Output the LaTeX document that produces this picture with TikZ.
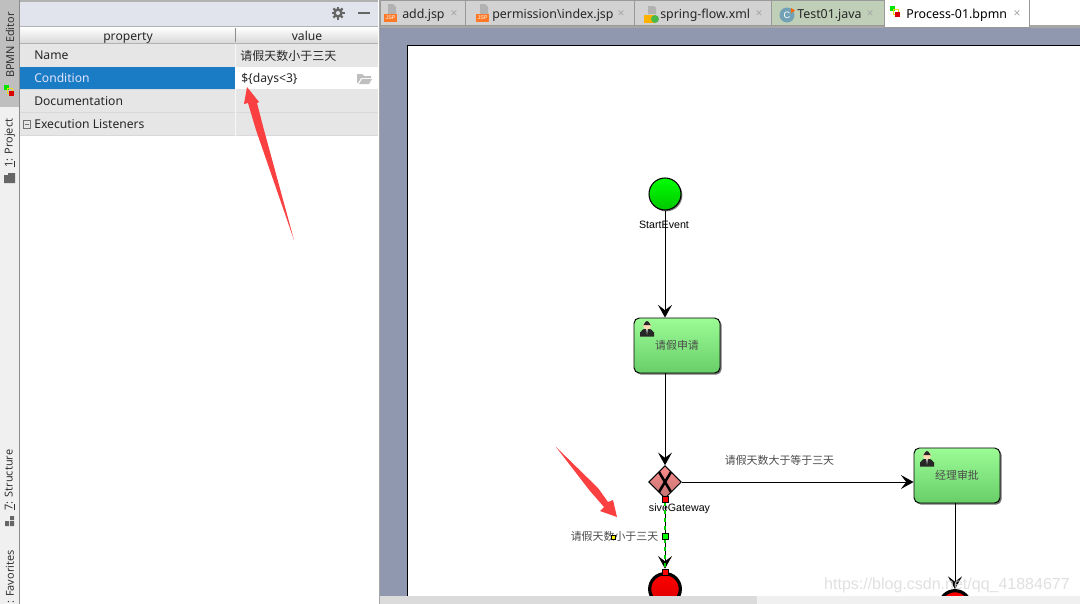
\documentclass[tikz,border=0pt]{standalone}
\usepackage{fontspec}
\setmainfont{Noto Sans}
\newfontfamily\cjk{Noto Sans CJK SC}
\newfontfamily\arial{Liberation Sans}
\usetikzlibrary{arrows.meta,shadows,shapes.geometric}

\definecolor{panelgrey}{HTML}{E6E6E6}
\definecolor{paneltop}{HTML}{E1E4EC}
\definecolor{stripgrey}{HTML}{F0F0F0}
\definecolor{editorbg}{HTML}{8F98AE}
\definecolor{selblue}{HTML}{1A7CC4}
\definecolor{arrowred}{HTML}{FA4040}
\definecolor{tabgrey}{HTML}{D2D2D2}
\definecolor{tabgreen}{HTML}{C0CFB8}
\definecolor{tasktop}{HTML}{9CFC96}
\definecolor{taskbottom}{HTML}{68CE68}

\tikzset{
  ui/.style={font=\fontsize{9.1}{11}\selectfont, text=black!85, inner sep=0pt},
  vtab/.style={ui, font=\fontsize{8.2}{10}\selectfont, rotate=90, text=black!80},
  tablabel/.style={ui, font=\fontsize{9.3}{11}\selectfont, anchor=base west},
  tabclose/.style={ui, text=black!35},
  rowname/.style={ui, anchor=base west},
  tabbox/.style={draw=black!40, fill=tabgrey, line width=0.6pt},
  cnlabel/.style={font=\cjk\fontsize{8.2}{10}\selectfont, text=black!70, inner sep=0pt},
  diagtext/.style={font=\arial\fontsize{8}{10}\selectfont, text=black, inner sep=0pt},
  flow/.style={draw=black, line width=0.75pt, -{Stealth[length=9.5pt,width=10.5pt,inset=4pt]}},
  startevent/.style={circle, draw=black, line width=0.8pt, minimum size=24pt, inner sep=0pt,
    top color=green!100!black, bottom color=green!78!black,
    drop shadow={shadow xshift=1pt,shadow yshift=-1pt,fill=black!55,opacity=1}},
  endevent/.style={circle, draw=black, line width=2.4pt, minimum size=23pt, inner sep=0pt,
    top color=red, bottom color=red!85!black},
  usertask/.style={rectangle, rounded corners=4pt, draw=black, line width=0.7pt,
    minimum width=64.5pt, minimum height=41.25pt, inner sep=0pt,
    top color=tasktop, bottom color=taskbottom,
    drop shadow={shadow xshift=1.2pt,shadow yshift=-1.2pt,fill=black!55,opacity=1}},
  gateway/.style={diamond, draw=black, line width=0.7pt, minimum size=24.5pt, inner sep=0pt,
    top color=red!45!white, bottom color=red!55!black!55!white},
  handle/.style={rectangle, draw=black, line width=0.5pt, minimum size=4.5pt, inner sep=0pt},
  pics/person/.style={code={
    \fill[black!85] (-7,7.5) -- (-7,3) to[out=-90,in=180] (-3,0) -- (3,0) to[out=0,in=-90] (7,3) -- (7,7.5) -- cycle;
    \fill[black!30] (-1,0) -- (1,0) -- (0,6) -- cycle;
    \fill[orange!30!white] (0,-3.5) circle (4);
    \fill[black!85] (-4,-4) to[out=-90,in=180] (0,-8) to[out=0,in=-90] (4,-4) -- cycle;
  }},
  pics/jspicon/.style={code={
    \fill[black!30] (-3,-10) -- (2,-10) -- (5,-7) -- (5,0) -- (-3,0) -- cycle;
    \fill[orange!75!red!85!white] (-7,0) rectangle (6,8);
    \node[font=\arial\fontsize{4}{4}\selectfont, text=white, inner sep=0pt] at (-0.5,4) {JSP};
  }},
  pics/bpmnicon/.style={code={
    \fill[green!90!black] (-5,-5) rectangle (0,0);
    \draw[yellow!90!black, line width=0.7pt] (-2,-2) rectangle (3,3);
    \fill[red!85!black] (0,1) rectangle (5,6);
  }}
}

\begin{document}
\begin{tikzpicture}[x=0.75pt,y=-0.75pt]

  \useasboundingbox (0,0) rectangle (1080,603);
  \clip (0,0) rectangle (1080,612);

  % left strip
  \fill[white] (0,0) rectangle (1080,612);
  \fill[stripgrey] (0,0) rectangle (19,612);
  \fill[black!25] (0,0) rectangle (19,107);
  \draw[black!45, line width=0.8pt] (19.5,0) -- (19.5,612);
  \node[vtab] (tabEditor) at (10,45) {BPMN Editor};
  \pic at (9,90) {bpmnicon};
  \node[vtab] (tabProject) at (10,143) {\underline{1}: Project};
  \fill[black!60] (4,175) -- (8,175) -- (8,173) -- (15,173) -- (15,183) -- (4,183) -- cycle;
  \node[vtab] (tabStructure) at (10,480) {\underline{7}: Structure};
  \fill[black!60] (5,521) rectangle (9,526) (10,521) rectangle (14,526) (10,516) rectangle (14,520);
  \node[vtab, anchor=east] (tabFavorites) at (10,550) {: Favorites};

  % property panel
  \fill[black!30] (20,0) rectangle (378,2);
  \fill[paneltop] (20,2) rectangle (378,26);
  \foreach \a in {0,45,...,315}
    \draw[black!60, line width=1.8pt] (338,13) -- ++(\a:6.5);
  \fill[black!60] (338,13) circle (4.8);
  \fill[paneltop] (338,13) circle (2);
  \draw[black!60, line width=1.3pt] (358,13) -- (370,13);

  \shade[top color=white, bottom color=black!15] (20,27) rectangle (378,43);
  \draw[black!30, line width=0.7pt] (20,26.5) -- (378,26.5) (20,43.5) -- (378,43.5);
  \draw[black!45] (235.5,28) -- (235.5,42);
  \node[ui, anchor=base] (headProp) at (128,40) {property};
  \node[ui, anchor=base] (headValue) at (307,40) {value};

  \fill[panelgrey] (20,44) rectangle (378,136);
  \fill[selblue] (20,67) rectangle (235,89);
  \fill[white] (235,67) rectangle (378,89);
  \draw[black!15, line width=0.6pt] (20,112.5) -- (378,112.5) (20,135.5) -- (378,135.5) (20,89.5) -- (235,89.5);
  \draw[white!97!black, line width=0.6pt] (235.5,44) -- (235.5,67) (235.5,89) -- (235.5,136);

  \node[rowname] (rowName) at (34,59) {Name};
  \node[rowname, text=white!90!blue] (rowCond) at (34,82) {Condition};
  \node[rowname] (rowDoc) at (34,105) {Documentation};
  \node[rowname] (rowExec) at (34,128) {Execution Listeners};
  \draw[black!55, line width=0.5pt] (23,120) rectangle (30,128) (24.5,124) -- (28.5,124);
  \node[ui, anchor=west, font=\cjk\fontsize{9}{11}\selectfont] (valName) at (240,56) {请假天数小于三天};
  \node[ui, anchor=base west] (valCond) at (241,82) {\$\{days<3\}};
  \fill[black!25] (357,74) -- (362,74) -- (364,76) -- (371,76) -- (371,78) -- (361,78) -- (358,83) -- (357,83) -- cycle;
  \fill[black!25] (362,79) -- (372,79) -- (369,84) -- (359,84) -- cycle;

  % editor
  \fill[black!35] (379,0) rectangle (380,612);
  \fill[editorbg] (380,28) rectangle (1080,612);
  \fill[black!35] (380,25) rectangle (1080,28);

  \draw[tabbox] (380,0) rectangle (465,25);
  \draw[tabbox] (465,0) rectangle (634,25);
  \draw[tabbox] (634,0) rectangle (771,25);
  \draw[tabbox, fill=tabgreen] (771,0) rectangle (884,25);
  \fill[white] (1029,0) rectangle (1080,25);
  \draw[draw=black!40, fill=white, line width=0.6pt] (884,-1) -- (884,27) -- (1029,27) -- (1029,-1) -- cycle;

  \pic at (391,14) {jspicon};
  \pic at (483,14) {jspicon};
  \fill[black!30] (648,6) -- (654,6) -- (656,8) -- (656,14) -- (648,14) -- cycle;
  \fill[orange!60!yellow] (644,15) rectangle (655,23);
  \fill[green!60!black!70!white] (655,19) circle (4);
  \fill[cyan!55!black!70!white] (787,15) circle (7.5);
  \node[ui, font=\arial\fontsize{7}{7}\selectfont, text=white] at (787,15) {C};
  \fill[orange!80!red] (791,8) -- (795,10.5) -- (791,13) -- cycle;
  \pic at (895,11) {bpmnicon};

  \node[tablabel] (tabAdd) at (402,18) {add.jsp};
  \node[tablabel] (tabPerm) at (492,18) {permission\textbackslash index.jsp};
  \node[tablabel] (tabSpring) at (660,18) {spring-flow.xml};
  \node[tablabel] (tabTest) at (797,18) {Test01.java};
  \node[tablabel, text=black] (tabBpmn) at (906,18) {Process-01.bpmn};
  \foreach \x in {454,621,759,870,1017}
    \node[tabclose] at (\x,14) {×};

  % canvas
  \draw[fill=white, draw=black, line width=0.8pt] (407.5,45.5) rectangle (1090,620);

  % process
  \node[startevent] (startEvent) at (665,194) {};
  \node[usertask] (taskApply) at (677,345.5) {};
  \node[usertask] (taskApprove) at (957,475.5) {};
  \node[gateway] (gatewayX) at (665,482) {};
  \node[endevent] (endLeft) at (665,589) {};
  \node[endevent] (endRight) at (955,606) {};

  \node[cnlabel] at (677,345) {请假申请};
  \node[cnlabel] at (957,475) {经理审批};
  \pic at (647,329) {person};
  \pic at (927,459) {person};

  \draw[black, line width=1.9pt] (659,472) -- (671,492) (671,472) -- (659,492);

  \node[diagtext] (startLabel) at (664,225) {StartEvent};
  \node[diagtext] (gatewayLabel) at (679.5,509) {siveGateway};
  \node[cnlabel] (labelGe) at (779.5,460) {请假天数大于等于三天};
  \node[cnlabel] (labelLt) at (614.5,536) {请假天数小于三天};

  \draw[flow] (startEvent) -- (startEvent |- taskApply.north);
  \draw[flow] (startEvent |- taskApply.south) -- (gatewayX);
  \draw[flow] (gatewayX) -- (taskApprove.west |- gatewayX);
  \draw[flow] (endRight |- taskApprove.south) -- (endRight);

  \node[handle, fill=red] (handleTop) at (665,499) {};
  \node[handle, fill=green] (handleMid) at (665,536) {};
  \node[handle, fill=red] (handleEnd) at (665,572) {};
  \node[handle, fill=yellow, minimum size=2.6pt] (handleLabel) at (613.5,537.5) {};

  \draw[flow] (handleTop) -- (handleEnd);
  \draw[green!80!black, line width=0.8pt, dash pattern=on 3pt off 3pt] (handleTop) -- (handleMid) -- (handleEnd);
  \node[handle, fill=red] at (665,499) {};
  \node[handle, fill=green] at (665,536) {};
  \node[handle, fill=red] at (665,572) {};

  % red arrows
  \fill[arrowred] (294,240) -- (264,130) -- (257,103) -- (259,102) -- (247,87) -- (244,104) -- (248,103) -- (256,130) -- cycle;
  \fill[arrowred] (556,447) -- (598,488) -- (608,502) -- (613,500) -- (617,517) -- (600,511) -- (604,507) -- (590,491) -- cycle;

  % scrollbar
  \fill[stripgrey] (380,596) rectangle (1080,612);
  \fill[black!14] (380,596) rectangle (757,612);

  \node[font=\arial\fontsize{12}{14}\selectfont, text=black!15, inner sep=0pt, anchor=east, opacity=0.8]
    (watermark) at (1070,585) {https://blog.csdn.net/qq\_41884677};

\end{tikzpicture}
\end{document}
